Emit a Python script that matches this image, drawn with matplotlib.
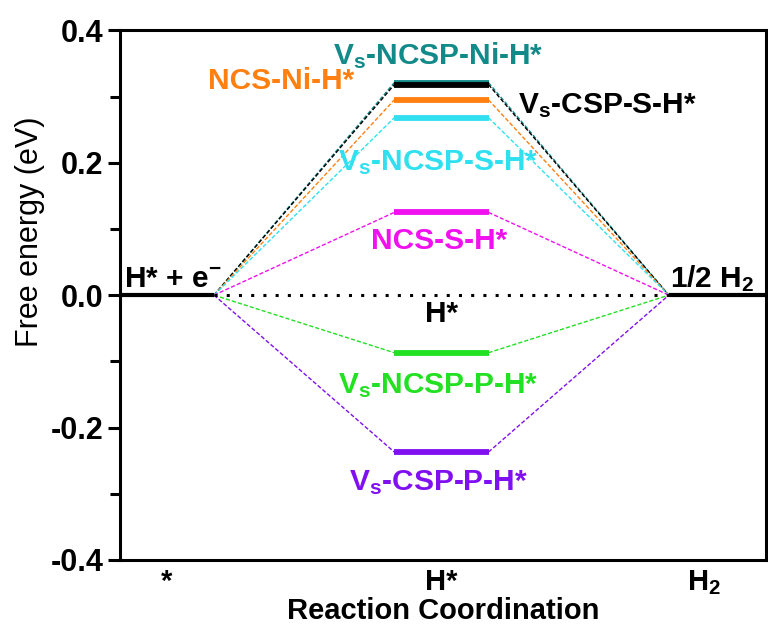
import matplotlib
matplotlib.use("Agg")
import matplotlib.pyplot as plt

plt.rcParams["font.family"] = ["Liberation Sans", "DejaVu Sans"]
plt.rcParams["mathtext.fontset"] = "custom"
plt.rcParams["mathtext.rm"] = "Liberation Sans:bold"
plt.rcParams["mathtext.it"] = "Liberation Sans:bold"
plt.rcParams["mathtext.bf"] = "Liberation Sans:bold"

# Free energy of adsorbed H* on each site (eV)
sites = ["V$_{\\rm s}$-NCSP-Ni-H*", "V$_{\\rm s}$-CSP-S-H*", "NCS-Ni-H*",
         "V$_{\\rm s}$-NCSP-S-H*", "NCS-S-H*", "V$_{\\rm s}$-NCSP-P-H*",
         "V$_{\\rm s}$-CSP-P-H*"]
energies = [0.321, 0.318, 0.295, 0.268, 0.125, -0.087, -0.237]
colors = ["#138a8a", "#000000", "#ff8010", "#30e0f0", "#f010f0", "#22e022", "#8010f0"]

stages = ["*", "H*", "H$_2$"]
initial_energy = 0.0
final_energy = 0.0

# x extents of the three levels
left_seg = (0.0, 0.35)
mid_seg = (1.02, 1.37)
right_seg = (2.04, 2.40)

fig = plt.figure(figsize=(7.68, 6.32), dpi=100)
ax = fig.add_axes([0.156, 0.114, 0.841, 0.838])

# initial and final states
ax.plot(left_seg, [initial_energy] * 2, color="black", lw=3, solid_capstyle="butt", zorder=4)
ax.plot(right_seg, [final_energy] * 2, color="black", lw=3, solid_capstyle="butt", zorder=4)
# reference level at 0 eV
ax.plot([left_seg[1], right_seg[0]], [0, 0], color="black", lw=2.2,
        linestyle=(0, (1, 3)), zorder=3)

for e, c in zip(energies, colors):
    ax.plot(mid_seg, [e, e], color=c, lw=4.2, solid_capstyle="butt", zorder=5)
    ax.plot([left_seg[1], mid_seg[0]], [initial_energy, e], color=c, lw=1,
            linestyle=(0, (3, 1.5)), zorder=2)
    ax.plot([mid_seg[1], right_seg[0]], [e, final_energy], color=c, lw=1,
            linestyle=(0, (3, 1.5)), zorder=2)

fs = 21.5
mid_x = (mid_seg[0] + mid_seg[1]) / 2
label_pos = {
    0: (mid_x - 0.01, 0.349, "center"),
    1: (1.48, 0.275, "left"),
    2: (0.60, 0.312, "center"),
    3: (mid_x - 0.01, 0.188, "center"),
    4: (mid_x - 0.01, 0.07, "center"),
    5: (mid_x - 0.01, -0.148, "center"),
    6: (mid_x - 0.01, -0.294, "center"),
}
for i, (x, y, ha) in label_pos.items():
    ax.text(x, y, sites[i], color=colors[i], fontsize=fs, fontweight="bold",
            ha=ha, va="baseline", zorder=6)

ax.text(mid_x, -0.04, "H*", fontsize=fs, fontweight="bold", ha="center", va="baseline")
ax.text(0.015, 0.012, "H* + e$^{-}$", fontsize=fs, fontweight="bold", ha="left", va="baseline")
ax.text(2.045, 0.012, "1/2 H$_2$", fontsize=fs, fontweight="bold", ha="left", va="baseline")

ax.set_xlim(0, 2.40)
ax.set_ylim(-0.4, 0.4)
ax.set_yticks([-0.4, -0.2, 0.0, 0.2, 0.4])
ax.set_yticklabels(["-0.4", "-0.2", "0.0", "0.2", "0.4"])
ax.set_yticks([-0.3, -0.1, 0.1, 0.3], minor=True)
ax.set_xticks([(left_seg[0] + left_seg[1]) / 2, mid_x, (right_seg[0] + right_seg[1]) / 2 - 0.05])
ax.set_xticklabels(stages)

ax.tick_params(axis="y", which="major", direction="out", length=9, width=2.2,
               labelsize=22, pad=3)
ax.tick_params(axis="y", which="minor", direction="out", length=7, width=2.2)
ax.tick_params(axis="x", which="both", length=0, labelsize=21, pad=6)
for lab in ax.get_yticklabels() + ax.get_xticklabels():
    lab.set_fontweight("bold")

for s in ax.spines.values():
    s.set_linewidth(2.2)

ax.set_ylabel("Free energy (eV)", fontsize=22)
ax.yaxis.set_label_coords(-0.116, 0.62)
ax.set_xlabel("Reaction Coordination", fontsize=21, fontweight="bold", labelpad=0)

fig.savefig("out.png", dpi=100)
